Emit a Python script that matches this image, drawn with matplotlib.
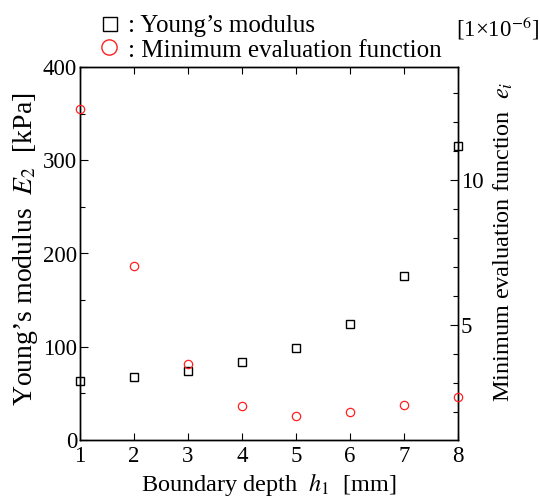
import matplotlib
matplotlib.use("Agg")
import matplotlib.pyplot as plt
from matplotlib.lines import Line2D
from matplotlib.ticker import MultipleLocator

plt.rcParams.update({
    "font.family": ["Liberation Serif", "DejaVu Serif"],
    "mathtext.fontset": "stix",
    "font.size": 16,
    "axes.linewidth": 1.0,
})

depth = [1, 2, 3, 4, 5, 6, 7, 8]
youngs_kpa = [63.2, 67.9, 73.9, 83.6, 98.9, 124.6, 175.9, 315.0]
min_eval = [12.44, 7.03, 3.64, 2.20, 1.87, 1.98, 2.25, 2.52]

W, H = 540, 498
fig = plt.figure(figsize=(W / 100, H / 100), dpi=100)
ax = fig.add_axes([80 / W, 1 - 440 / H, 378 / W, 373 / H])
ax2 = ax.twinx()

ax.plot(depth, youngs_kpa, ls="none", marker="s", ms=5.8, mfc="none",
        mec="black", mew=1.0, clip_on=False, zorder=5)
ax2.plot(depth, min_eval, ls="none", marker="o", ms=6.0, mfc="none",
         mec="#ff2020", mew=0.9, clip_on=False, zorder=5)

ax.set_xlim(1, 8)
ax.set_ylim(0, 400)
ax2.set_ylim(1.03, 13.9)

ax.xaxis.set_major_locator(MultipleLocator(1))
ax.yaxis.set_major_locator(MultipleLocator(100))
ax.yaxis.set_minor_locator(MultipleLocator(50))
ax2.yaxis.set_major_locator(MultipleLocator(5))
ax2.yaxis.set_minor_locator(MultipleLocator(1))

ax.tick_params(axis="x", which="both", direction="in", top=True, length=5,
               width=0.8, pad=4, labelsize=16.5)
ax.tick_params(axis="y", which="major", direction="in", length=6, width=0.8,
               pad=2, labelsize=16.5)
ax.tick_params(axis="y", which="minor", direction="in", length=3.5, width=0.8)
ax2.tick_params(axis="y", which="major", direction="in", length=6, width=0.8,
                pad=2, labelsize=16.5)
ax2.tick_params(axis="y", which="minor", direction="in", length=3.5, width=0.8)

ax.set_xlabel(r"Boundary depth  $h_1$  [mm]", fontsize=17.5, labelpad=3)
ax.set_ylabel("Young\u2019s modulus  $E_2$  [kPa]", fontsize=20, labelpad=2)
ax2.set_ylabel(r"Minimum evaluation function  $e_i$", fontsize=17.5,
               labelpad=6)
ax.yaxis.label.set_y(0.513)
ax2.yaxis.label.set_y(0.53)

# legend drawn as text above the axes
fig.add_artist(Line2D([109.5 / W], [1 - 24.5 / H], marker="s", ms=10.5,
                      mfc="none", mec="black", mew=1.0, ls="none"))
fig.add_artist(Line2D([108.5 / W], [1 - 47.5 / H], marker="o", ms=11,
                      mfc="none", mec="#ff2020", mew=1.0, ls="none"))
fig.text(128 / W, 1 - 32 / H, ": Young\u2019s modulus", fontsize=18,
         va="baseline", ha="left")
fig.text(128 / W, 1 - 57 / H, ": Minimum evaluation function",
         fontsize=18, va="baseline", ha="left")
fig.text(539 / W, 1 - 36 / H, "[1\u00d710$^{-6}$]", fontsize=16.5,
         va="baseline", ha="right")

fig.savefig("out.png", dpi=100)
